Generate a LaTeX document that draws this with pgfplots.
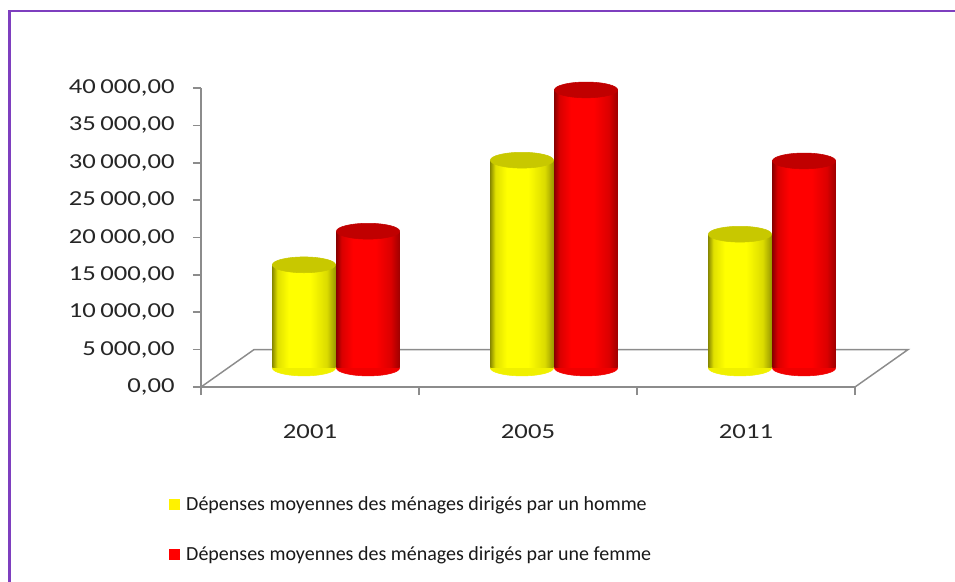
\documentclass[border=0pt]{standalone}
\usepackage{fontspec}
\setmainfont{Carlito}
\usepackage{pgfplots}
\usepackage{pgfplotstable}
\pgfplotsset{compat=1.18}

\definecolor{frame}{HTML}{7E3FBF}
\definecolor{axisgray}{HTML}{8C8C8C}
\definecolor{ybot}{HTML}{F0F000}
\definecolor{ytop}{HTML}{C8C800}
\definecolor{rbot}{HTML}{F00000}
\definecolor{rtop}{HTML}{C00000}

% cylinder look: dark edges, bright band left of centre
\pgfdeclarehorizontalshading{cylY}{100bp}{rgb(0bp)=(0.55,0.55,0); rgb(25bp)=(0.55,0.55,0);
  rgb(29bp)=(0.88,0.88,0); rgb(38bp)=(1,1,0); rgb(55bp)=(1,1,0); rgb(68bp)=(0.86,0.86,0);
  rgb(75bp)=(0.6,0.6,0); rgb(100bp)=(0.6,0.6,0)}
\pgfdeclarehorizontalshading{cylR}{100bp}{rgb(0bp)=(0.55,0,0); rgb(25bp)=(0.55,0,0);
  rgb(29bp)=(0.85,0,0); rgb(38bp)=(1,0,0); rgb(56bp)=(1,0,0); rgb(68bp)=(0.86,0,0);
  rgb(75bp)=(0.62,0,0); rgb(100bp)=(0.62,0,0)}

\pgfplotstableread{
cat v
0 13800
1 27800
2 17900
}\homme
\pgfplotstableread{
cat v
0 18300
1 37200
2 27700
}\femme

\pgfplotsset{
    depth axis/.style={scale only axis, width=490.5pt, height=224.25pt,
        xmin=-0.5, xmax=2.5, ymin=0, ymax=40000, hide axis, clip=false},
    ell/.style={only marks, mark=*, mark size=23.7pt, color=#1,
        mark options={yscale=0.25, draw=#1, fill=#1}},
}

\begin{document}
\begin{tikzpicture}
% page = 955 x 581 px (1 px = 0.75 pt)
\path[use as bounding box] (0pt,0pt) rectangle (716.25pt,435.75pt);
\draw[frame, line width=2.2pt] (7.125pt,-10pt) -- (7.125pt,427.5pt) -- (730pt,427.5pt);

\begin{axis}[
    at={(150.75pt,145.5pt)}, anchor=south west,
    scale only axis, width=490.5pt, height=224.25pt,
    xmin=-0.5, xmax=2.5, ymin=0, ymax=40000, clip=false,
    axis x line*=bottom, axis y line*=left,
    axis line style={axisgray, line width=1.2pt, -},
    tick style={axisgray, line width=1.2pt},
    tick align=outside, major tick length=6pt,
    xtick={-0.5,0.5,1.5,2.5}, xticklabels={},
    extra x ticks={0,1,2}, extra x tick labels={2001,2005,2011},
    extra x tick style={major tick length=0pt},
    ytick={0,5000,...,40000}, scaled y ticks=false,
    ticklabel style={font=\fontsize{16}{18}\selectfont, text=black!85, xscale=1.25},
    xticklabel style={yshift=-24.5pt},
    yticklabel style={xshift=-7.5pt, /pgf/number format/fixed, /pgf/number format/fixed zerofill,
        /pgf/number format/precision=2, /pgf/number format/use comma,
        /pgf/number format/1000 sep={\,}, /pgf/number format/assume math mode=true},
    legend image code/.code={\fill[#1, draw=none] (0pt,-4.1pt) rectangle (8.25pt,4.1pt);},
    legend cell align=left,
    legend style={at={(-0.05,-0.356)}, anchor=north west, draw=none, fill=none,
        inner sep=0pt, row sep=21.5pt, font=\fontsize{15}{17}\selectfont,
        text=black!90, /tikz/every odd column/.append style={column sep=3pt}},
]
% floor of the 3-D box
\draw[axisgray, line width=1.1pt] (axis cs:2.5,0) -- (axis cs:2.743,5000)
    -- (axis cs:-0.257,5000) -- (axis cs:-0.5,0);
\addlegendimage{fill=yellow, draw=none}
\addlegendentry{Dépenses moyennes des ménages dirigés par un homme}
\addlegendimage{fill=red, draw=none}
\addlegendentry{Dépenses moyennes des ménages dirigés par une femme}
\end{axis}

% bars sit half a depth step behind the front plane: bottoms first
\begin{axis}[depth axis, at={(170.25pt,159.75pt)}, anchor=south west]
\addplot[ell=ybot] table[x expr=\thisrow{cat}-0.147, y expr=0]{\homme};
\addplot[ell=rbot] table[x expr=\thisrow{cat}+0.147, y expr=0]{\femme};
\end{axis}

\begin{axis}[depth axis, at={(170.25pt,159.75pt)}, anchor=south west]
\pgfplotsinvokeforeach{0,1,2}{
  \addplot[ybar, bar width=0.29, bar shift=0pt, draw=none, shade, shading=cylY,
      restrict expr to domain={\coordindex}{#1:#1}]
      table[x expr=\thisrow{cat}-0.147, y=v]{\homme};
  \addplot[ybar, bar width=0.29, bar shift=0pt, draw=none, shade, shading=cylR,
      restrict expr to domain={\coordindex}{#1:#1}]
      table[x expr=\thisrow{cat}+0.147, y=v]{\femme};
}
\addplot[ell=ytop] table[x expr=\thisrow{cat}-0.147, y=v]{\homme};
\addplot[ell=rtop] table[x expr=\thisrow{cat}+0.147, y=v]{\femme};
\end{axis}
\end{tikzpicture}
\end{document}
